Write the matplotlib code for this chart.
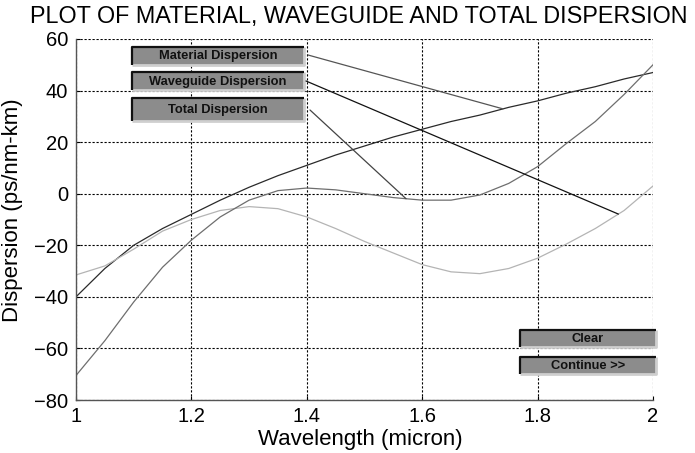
import numpy as np
import matplotlib
matplotlib.use("Agg")
import matplotlib.pyplot as plt
from matplotlib.patches import Rectangle, ConnectionPatch

# ---- data ----
wavelength = [1.00, 1.05, 1.10, 1.15, 1.20, 1.25, 1.30, 1.35, 1.40, 1.45, 1.50,
              1.55, 1.60, 1.65, 1.70, 1.75, 1.80, 1.85, 1.90, 1.95, 2.00]
material = [-40, -29, -20, -13.5, -8, -2.5, 2.5, 7, 11, 15, 18.5,
            22, 25, 28, 30.5, 33.5, 36, 39, 41.5, 44.5, 47]
waveguide = [-31.5, -28, -21.5, -14.5, -10, -6.5, -5, -5.8, -9, -13.5, -18.5,
             -23, -27.5, -30.3, -31, -29, -25, -19.5, -13.5, -6.5, 3]
total = [-70.5, -57, -42, -28.5, -18, -9, -2.5, 1.2, 2.2, 1.5, 0,
         -1.5, -2.5, -2.5, -0.5, 4, 10.5, 19.5, 28, 38.5, 50]

legend_labels = ["Material Dispersion", "Waveguide Dispersion", "Total Dispersion"]
legend_targets_x = [1.74, 1.94, 1.572]   # where the pointer lines touch curves
button_labels = ["Clear", "Continue >>"]
xticks = [1, 1.2, 1.4, 1.6, 1.8, 2]
yticks = [-80, -60, -40, -20, 0, 20, 40, 60]

W, H = 695, 453
plt.rcParams['font.family'] = ['Liberation Sans', 'DejaVu Sans']
fig = plt.figure(figsize=(W / 100, H / 100), dpi=100)
fig.patch.set_facecolor('white')

L, R, T, B = 76, 653, 39, 400
ax = fig.add_axes([L / W, 1 - B / H, (R - L) / W, (B - T) / H])

c_mat, c_wg, c_tot = '#2a2a2a', '#b4b4b4', '#6e6e6e'
ax.plot(wavelength, material, color=c_mat, lw=0.9)
ax.plot(wavelength, waveguide, color=c_wg, lw=0.9)
ax.plot(wavelength, total, color=c_tot, lw=0.9)

ax.set_xlim(1, 2)
ax.set_ylim(-80, 60)
ax.set_xticks(xticks)
ax.set_xticklabels([f"{v:g}" for v in xticks])
ax.set_yticks(yticks)
ax.grid(True, color='black', linestyle=(0, (2.0, 1.6)), lw=0.8)
for s in ['top', 'right']:
    ax.spines[s].set_visible(False)
for s in ['left', 'bottom']:
    ax.spines[s].set_color('#555555')
    ax.spines[s].set_linewidth(1.0)
ax.tick_params(direction='in', length=3, labelsize=14.5, colors='black',
               top=False, right=False)
ax.tick_params(axis='y', pad=5.5)
ax.tick_params(axis='x', pad=5)

fig.text(360 / W, 1 - 439 / H, "Wavelength (micron)", ha='center', va='center',
         fontsize=16)
fig.text(13 / W, 1 - 210 / H, "Dispersion (ps/nm-km)", ha='center', va='center',
         rotation=90, fontsize=16)
fig.text(359 / W, 1 - 17 / H, "PLOT OF MATERIAL, WAVEGUIDE AND TOTAL DISPERSION",
         ha='center', va='center', fontsize=16.8)

# overlay in pixel coords for the uicontrol-like buttons
ov = fig.add_axes([0, 0, 1, 1], facecolor='none')
ov.set_xlim(0, W)
ov.set_ylim(H, 0)
ov.axis('off')


def button(x0, y0, x1, y1, text):
    ov.add_patch(Rectangle((x0, y0), x1 - x0, y1 - y0, facecolor='#8c8c8c',
                           edgecolor='none', zorder=5))
    # bevel: light bottom/right, dark top/left
    ov.plot([x0, x1, x1], [y1, y1, y0], color='#cfcfcf', lw=2.0, zorder=6,
            solid_capstyle='butt')
    ov.plot([x0, x0, x1], [y1, y0, y0], color='#111111', lw=1.6, zorder=6,
            solid_capstyle='butt')
    ov.text((x0 + x1) / 2, (y0 + y1) / 2 + 0.5, text, ha='center', va='center',
            fontsize=9.3, fontweight='bold', color='#111111', zorder=7)


leg_boxes = [(132, 47, 304, 65), (132, 72, 304, 90), (132, 98, 304, 121)]
leg_starts = [(308, 55), (306, 81), (310, 110)]
leg_series = [material, waveguide, total]
leg_line_colors = ['#555555', '#111111', '#444444']
for (bx, lab, st, ser, tx, lc) in zip(leg_boxes, legend_labels, leg_starts,
                                       leg_series, legend_targets_x, leg_line_colors):
    button(*bx, lab)
    ty = float(np.interp(tx, wavelength, ser))
    con = ConnectionPatch(xyA=st, coordsA=ov.transData, xyB=(tx, ty),
                          coordsB=ax.transData, color=lc, lw=0.9, zorder=4)
    fig.add_artist(con)

btn_boxes = [(520, 330, 656, 347), (520, 357, 656, 374)]
for bx, lab in zip(btn_boxes, button_labels):
    button(*bx, lab)

fig.savefig("out.png", dpi=100, facecolor='white')
